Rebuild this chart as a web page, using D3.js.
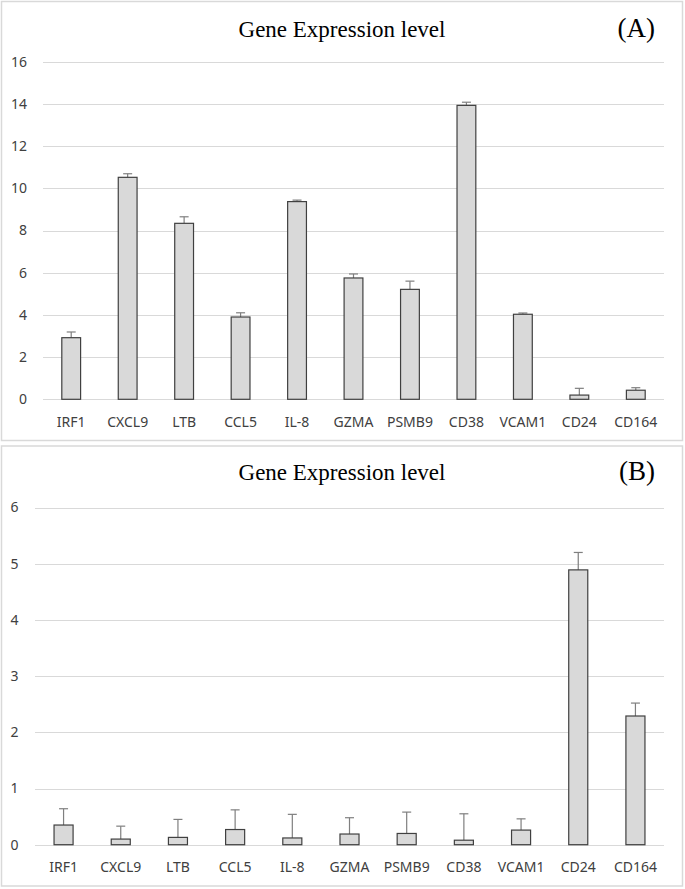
<!DOCTYPE html>
<html>
<head>
<meta charset="utf-8">
<script src="https://cdn.jsdelivr.net/npm/d3@7/dist/d3.min.js"></script>
<style>
html,body{margin:0;padding:0;background:#fff;}
svg{display:block;}
</style>
</head>
<body>
<svg id="chart" width="685" height="889"></svg>
<script>
const genes = ["IRF1","CXCL9","LTB","CCL5","IL-8","GZMA","PSMB9","CD38","VCAM1","CD24","CD164"];
const valuesA = [2.92,10.52,8.34,3.90,9.37,5.75,5.21,13.93,4.03,0.20,0.43];
const errorsA = [0.27,0.17,0.31,0.20,0.07,0.19,0.39,0.15,0.06,0.32,0.12];
const valuesB = [0.35,0.10,0.13,0.27,0.12,0.19,0.20,0.08,0.26,4.89,2.29];
const errorsB = [0.29,0.23,0.32,0.35,0.42,0.29,0.38,0.47,0.20,0.31,0.23];
const ticksA = [0,2,4,6,8,10,12,14,16];
const ticksB = [0,1,2,3,4,5,6];
const titleText = "Gene Expression level";

const svg = d3.select("#chart");

function panel(opt){
  const g = svg.append("g");
  g.append("rect").attr("x",opt.box[0]).attr("y",opt.box[1]).attr("width",opt.box[2]).attr("height",opt.box[3])
    .attr("fill","#fff").attr("stroke","#d9d9d9").attr("stroke-width",1.5);
  const x = d3.scaleBand().domain(genes).range([opt.x0,opt.x1]).paddingInner(0.667).paddingOuter(0.333);
  const y = d3.scaleLinear().domain([0,d3.max(opt.ticks)]).range([opt.y0,opt.y1]);

  // gridlines
  g.append("g").selectAll("line").data(opt.ticks).join("line")
    .attr("x1",opt.x0).attr("x2",opt.x1)
    .attr("y1",d=>Math.round(y(d))+0.5).attr("y2",d=>Math.round(y(d))+0.5)
    .attr("stroke","#d9d9d9").attr("stroke-width",1);

  // y tick labels
  g.append("g").selectAll("text").data(opt.ticks).join("text")
    .attr("x",opt.labelX).attr("y",d=>y(d)).attr("dy","0.35em")
    .attr("text-anchor","end")
    .attr("font-family","'Noto Sans', sans-serif").attr("font-size",14).attr("fill","#404040")
    .text(d=>d);

  const data = genes.map((k,i)=>({k, v:opt.values[i], e:opt.errors[i]}));
  // error bars
  const eb = g.append("g").attr("stroke","#7f7f7f").attr("stroke-width",1.2);
  eb.selectAll("line.v").data(data).join("line").attr("class","v")
    .attr("x1",d=>x(d.k)+x.bandwidth()/2).attr("x2",d=>x(d.k)+x.bandwidth()/2)
    .attr("y1",d=>y(d.v)).attr("y2",d=>y(d.v+d.e));
  eb.selectAll("line.c").data(data).join("line").attr("class","c")
    .attr("x1",d=>x(d.k)+x.bandwidth()/2-4.5).attr("x2",d=>x(d.k)+x.bandwidth()/2+4.5)
    .attr("y1",d=>y(d.v+d.e)).attr("y2",d=>y(d.v+d.e));

  // bars
  g.append("g").selectAll("rect").data(data).join("rect")
    .attr("x",d=>x(d.k)).attr("width",x.bandwidth())
    .attr("y",d=>y(d.v)).attr("height",d=>y(0)-y(d.v))
    .attr("fill","#d9d9d9").attr("stroke","#404040").attr("stroke-width",1.2);

  // category labels
  g.append("g").selectAll("text").data(genes).join("text")
    .attr("x",d=>x(d)+x.bandwidth()/2).attr("y",opt.catY)
    .attr("text-anchor","middle")
    .attr("font-family","'Noto Sans', sans-serif").attr("font-size",14).attr("fill","#404040")
    .text(d=>d);

  // title
  g.append("text").attr("x",opt.box[0]+opt.box[2]/2).attr("y",opt.titleY)
    .attr("text-anchor","middle")
    .attr("font-family","'Liberation Serif','Times New Roman',serif").attr("font-size",23).attr("fill","#000")
    .text(titleText);
  g.append("text").attr("x",655).attr("y",opt.titleY)
    .attr("text-anchor","end")
    .attr("font-family","'Liberation Serif','Times New Roman',serif").attr("font-size",27).attr("fill","#000")
    .text(opt.tag);
}

panel({box:[1.5,1.5,681,439], x0:43, x1:664, y0:399.3, y1:61.7, ticks:ticksA,
  values:valuesA, errors:errorsA, labelX:27, catY:427, titleY:37, tag:"(A)"});
panel({box:[1.5,446,681,440], x0:35, x1:664, y0:844.7, y1:507.5, ticks:ticksB,
  values:valuesB, errors:errorsB, labelX:18.5, catY:872, titleY:480, tag:"(B)"});
</script>
</body>
</html>
